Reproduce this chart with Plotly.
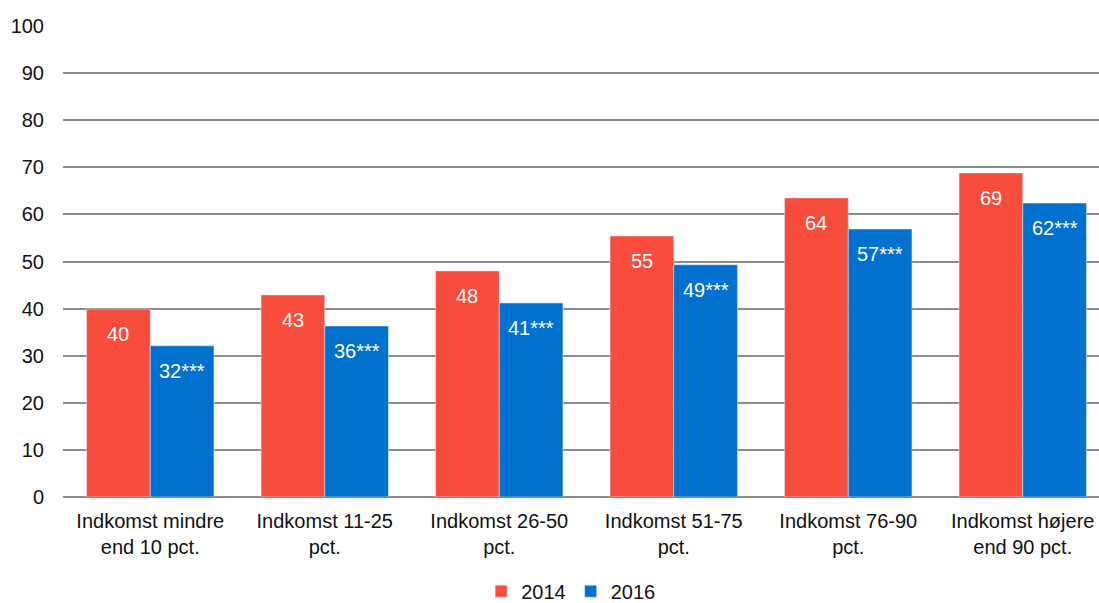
import plotly.graph_objects as go

categories = ["Indkomst mindre<br>end 10 pct.", "Indkomst 11-25<br>pct.", "Indkomst 26-50<br>pct.",
              "Indkomst 51-75<br>pct.", "Indkomst 76-90<br>pct.", "Indkomst højere<br>end 90 pct."]
values_2014 = [39.9, 42.9, 48.0, 55.4, 63.5, 68.8]
values_2016 = [32.1, 36.3, 41.2, 49.3, 56.9, 62.4]
labels_2014 = ["40", "43", "48", "55", "64", "69"]
labels_2016 = ["32***", "36***", "41***", "49***", "57***", "62***"]
y_ticks = [0, 10, 20, 30, 40, 50, 60, 70, 80, 90, 100]

RED = "#F84D3C"
BLUE = "#0071CE"
FONT = "Liberation Sans, Arial, sans-serif"
BARGAP = 0.27

xs = list(range(len(categories)))
fig = go.Figure()
fig.add_trace(go.Bar(x=xs, y=values_2014, name="2014", marker_color=RED))
fig.add_trace(go.Bar(x=xs, y=values_2016, name="2016", marker_color=BLUE))

half = (1 - BARGAP) / 4
for i in xs:
    for off, val, lab in ((-half, values_2014[i], labels_2014[i]), (half, values_2016[i], labels_2016[i])):
        fig.add_annotation(x=i + off, y=val, text=lab, showarrow=False, yanchor="top", yshift=-12,
                           font=dict(family=FONT, size=20, color="white"))

fig.update_layout(
    width=1099, height=603,
    margin=dict(l=63, r=0, t=26, b=106, autoexpand=False),
    barmode="group", bargap=BARGAP, bargroupgap=0,
    plot_bgcolor="white", paper_bgcolor="white",
    font=dict(family=FONT, size=20, color="#111111"),
    xaxis=dict(tickvals=xs, ticktext=categories, range=[-0.5, 5.437], showgrid=False,
               ticks="", showline=False, tickfont=dict(size=20), automargin=False,
               ticklabelstandoff=10),
    yaxis=dict(range=[0, 100], tickvals=y_ticks, showgrid=True, gridcolor="#8C8C8C", gridwidth=1.5,
               zeroline=True, zerolinecolor="#8C8C8C", zerolinewidth=1.5, ticks="", ticklabelstandoff=18,
               tickfont=dict(size=20), automargin=False),
    legend=dict(orientation="h", x=0.49, xanchor="center", y=-0.2, yanchor="middle",
                font=dict(size=20), tracegroupgap=0),
    showlegend=True,
)
fig.write_html("out.html")
